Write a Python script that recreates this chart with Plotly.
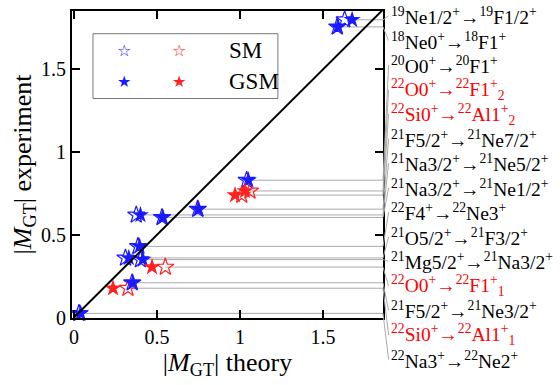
import plotly.graph_objects as go

# ---------------- data ----------------
labels = [
    "<sup>19</sup>Ne1/2<sup>+</sup>→<sup>19</sup>F1/2<sup>+</sup>",
    "<sup>18</sup>Ne0<sup>+</sup>→<sup>18</sup>F1<sup>+</sup>",
    "<sup>20</sup>O0<sup>+</sup>→<sup>20</sup>F1<sup>+</sup>",
    "<sup>22</sup>O0<sup>+</sup>→<sup>22</sup>F1<sup>+</sup><sub>2</sub>",
    "<sup>22</sup>Si0<sup>+</sup>→<sup>22</sup>Al1<sup>+</sup><sub>2</sub>",
    "<sup>21</sup>F5/2<sup>+</sup>→<sup>21</sup>Ne7/2<sup>+</sup>",
    "<sup>21</sup>Na3/2<sup>+</sup>→<sup>21</sup>Ne5/2<sup>+</sup>",
    "<sup>21</sup>Na3/2<sup>+</sup>→<sup>21</sup>Ne1/2<sup>+</sup>",
    "<sup>22</sup>F4<sup>+</sup>→<sup>22</sup>Ne3<sup>+</sup>",
    "<sup>21</sup>O5/2<sup>+</sup>→<sup>21</sup>F3/2<sup>+</sup>",
    "<sup>21</sup>Mg5/2<sup>+</sup>→<sup>21</sup>Na3/2<sup>+</sup>",
    "<sup>22</sup>O0<sup>+</sup>→<sup>22</sup>F1<sup>+</sup><sub>1</sub>",
    "<sup>21</sup>F5/2<sup>+</sup>→<sup>21</sup>Ne3/2<sup>+</sup>",
    "<sup>22</sup>Si0<sup>+</sup>→<sup>22</sup>Al1<sup>+</sup><sub>1</sub>",
    "<sup>22</sup>Na3<sup>+</sup>→<sup>22</sup>Ne2<sup>+</sup>",
]
is_red = [False, False, False, True, True, False, False, False,
          False, False, False, True, False, True, False]
exp_vals = [1.80, 1.757, 0.83, 0.765, 0.74, 0.655, 0.62, 0.605,
            0.43, 0.36, 0.35, 0.305, 0.21, 0.177, 0.025]
sm_vals = [1.63, 1.585, 1.04, 1.06, 1.01, 0.745, 0.375, 0.53,
           0.385, 0.31, 0.40, 0.55, 0.35, 0.325, 0.03]
gsm_vals = [1.675, 1.59, 1.05, 1.03, 0.97, 0.75, 0.40, 0.535,
            0.395, 0.33, 0.415, 0.47, 0.355, 0.235, 0.04]

tick_vals = [0, 0.5, 1, 1.5]
tick_text = ["0", "0.5", "1", "1.5"]

XR = [-0.012, 1.861]
YR = [-0.003, 1.853]
FONT = "serif"
BLUE = "#1a1aff"
RED = "#ff2020"

# ---------------- figure ----------------
fig = go.Figure()

def pick(vals, red):
    return [v for v, r in zip(vals, is_red) if r == red]

for red, col in [(False, BLUE), (True, RED)]:
    fig.add_trace(go.Scatter(
        x=pick(sm_vals, red), y=pick(exp_vals, red), mode="markers",
        marker=dict(symbol="star-open", size=13, color=col, line=dict(width=1.2, color=col)),
        showlegend=False, cliponaxis=False))
for red, col in [(False, BLUE), (True, RED)]:
    fig.add_trace(go.Scatter(
        x=pick(gsm_vals, red), y=pick(exp_vals, red), mode="markers",
        marker=dict(symbol="star", size=13, color=col, line=dict(width=0)),
        showlegend=False, cliponaxis=False))

shapes = []
shapes.append(dict(type="line", xref="x", yref="y", x0=0, y0=0, x1=2, y1=2,
                   line=dict(color="black", width=2)))

n = len(labels)
top_px, step_px = 14.0, 24.7
plot_top, plot_h = 9.0, 309.0
annotations = []
for i in range(n):
    ye = exp_vals[i]
    xs = max(sm_vals[i], gsm_vals[i])
    shapes.append(dict(type="line", xref="x", yref="y", x0=xs, y0=ye, x1=XR[1], y1=ye,
                       line=dict(color="#aaaaaa", width=1), layer="below"))
    yp = (ye - YR[0]) / (YR[1] - YR[0])
    lab_y = 1 - (top_px + i * step_px - plot_top) / plot_h
    shapes.append(dict(type="line", xref="paper", yref="paper", x0=1.0, y0=yp,
                       x1=1.018, y1=lab_y, line=dict(color="#aaaaaa", width=1)))
    annotations.append(dict(xref="paper", yref="paper", x=1.02, y=lab_y,
                            xanchor="left", yanchor="middle", showarrow=False,
                            text=labels[i],
                            font=dict(family=FONT, size=19.5, color="red" if is_red[i] else "black")))

shapes.append(dict(type="rect", xref="paper", yref="paper", x0=0.0675, x1=0.662,
                   y0=0.715, y1=0.926, line=dict(color="#777777", width=1),
                   fillcolor="white", layer="below"))
leg = [("☆", BLUE, 0.167, 0.871), ("☆", RED, 0.344, 0.871),
       ("★", BLUE, 0.167, 0.770), ("★", RED, 0.344, 0.770)]
for t, c, x, y in leg:
    annotations.append(dict(xref="paper", yref="paper", x=x, y=y, text=t,
                            showarrow=False, xanchor="center", yanchor="middle",
                            font=dict(family="DejaVu Sans", size=16, color=c)))
for t, y in [("SM", 0.871), ("GSM", 0.770)]:
    annotations.append(dict(xref="paper", yref="paper", x=0.498, y=y, text=t,
                            showarrow=False, xanchor="left", yanchor="middle",
                            font=dict(family=FONT, size=23, color="black")))

axis_common = dict(showline=True, linewidth=2, linecolor="black", mirror="ticks",
                   ticks="inside", ticklen=8, tickwidth=2, tickcolor="black",
                   showgrid=False, zeroline=False, tickvals=tick_vals, ticktext=tick_text,
                   tickfont=dict(family=FONT, size=20, color="black"))

fig.update_layout(
    width=560, height=385,
    margin=dict(l=72, r=177, t=9, b=67),
    paper_bgcolor="white", plot_bgcolor="white",
    font=dict(family=FONT),
    xaxis=dict(range=XR, title=dict(text="|<i>M</i><sub>GT</sub>| theory",
                                    font=dict(family=FONT, size=26, color="black"), standoff=0),
               **axis_common),
    yaxis=dict(range=YR, title=dict(text="|<i>M</i><sub>GT</sub>| experiment",
                                    font=dict(family=FONT, size=26, color="black"), standoff=2),
               **axis_common),
    shapes=shapes, annotations=annotations, showlegend=False,
)

fig.write_html("out.html")
